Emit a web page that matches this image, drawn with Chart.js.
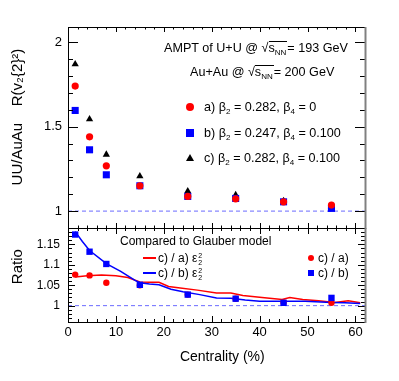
<!DOCTYPE html>
<html>
<head>
<meta charset="utf-8">
<script src="https://cdn.jsdelivr.net/npm/chart.js@4.4.1/dist/chart.umd.min.js"></script>
<style>
  body { margin: 0; background: #fff; }
  #fig { position: relative; width: 399px; height: 381px; overflow: hidden;
         font-family: "Liberation Sans", Arial, sans-serif; color: #000; }
  canvas { position: absolute; left: 0; }
  .t { position: absolute; white-space: nowrap; font-size: 12.6px; line-height: 16px; height: 16px; }
  .t.s { font-size: 12px; }
  .t sub { font-size: 8px; line-height: 0; vertical-align: -3px; }
  .rad { display: inline-block; border-top: 1px solid #000; line-height: 12px; padding-right: 1px; }
  .eps { display: inline-flex; flex-direction: column; font-size: 7px; line-height: 7px;
         vertical-align: middle; margin-left: 1px; }
  .mk { position: absolute; }
</style>
</head>
<body>
<div id="fig">
  <canvas id="upper" width="399" height="229" style="top:0"></canvas>
  <canvas id="lower" width="399" height="154" style="top:227px"></canvas>

  <div class="t" style="left:164px;top:40px">AMPT of U+U @ √<span class="rad">s<sub>NN</sub></span>= 193 GeV</div>
  <div class="t" style="left:190px;top:64px">Au+Au @ √<span class="rad">s<sub>NN</sub></span>= 200 GeV</div>

  <div class="mk" style="left:186px;top:103px;width:8px;height:8px;border-radius:50%;background:#f00"></div>
  <div class="t" style="left:204px;top:99px">a) β<sub>2</sub> = 0.282, β<sub>4</sub> = 0</div>
  <div class="mk" style="left:186px;top:129px;width:8px;height:8px;background:#00f"></div>
  <div class="t" style="left:204px;top:125px">b) β<sub>2</sub> = 0.247, β<sub>4</sub> = 0.100</div>
  <div class="mk" style="left:186px;top:154px;width:0;height:0;border-left:4px solid transparent;border-right:4px solid transparent;border-bottom:7px solid #000"></div>
  <div class="t" style="left:204px;top:150px">c) β<sub>2</sub> = 0.282, β<sub>4</sub> = 0.100</div>

  <div class="t s" style="left:120px;top:233px">Compared to Glauber model</div>
  <div class="mk" style="left:143px;top:257px;width:13px;height:2px;background:#f00"></div>
  <div class="t s" style="left:158px;top:250px">c) / a) ε<span class="eps"><span>2</span><span>2</span></span></div>
  <div class="mk" style="left:143px;top:272px;width:13px;height:2px;background:#00f"></div>
  <div class="t s" style="left:158px;top:265px">c) / b) ε<span class="eps"><span>2</span><span>2</span></span></div>

  <div class="mk" style="left:308px;top:255px;width:6px;height:6px;border-radius:50%;background:#f00"></div>
  <div class="t s" style="left:318px;top:250px">c) / a)</div>
  <div class="mk" style="left:308px;top:270px;width:6px;height:6px;background:#00f"></div>
  <div class="t s" style="left:318px;top:265px">c) / b)</div>
</div>

<script>
// centrality bins (%)
const centrality = [1.5, 4.5, 8, 15, 25, 35, 45, 55];

// UU/AuAu ratio of v2{2}^2, upper panel
const ratioA = [1.74, 1.44, 1.268, 1.15, 1.087, 1.073, 1.055, 1.036];  // a) b2=0.282, b4=0
const ratioB = [1.596, 1.363, 1.215, 1.15, 1.087, 1.075, 1.055, 1.016]; // b) b2=0.247, b4=0.100
const ratioC = [1.87, 1.544, 1.335, 1.207, 1.118, 1.095, 1.06, 1.03];   // c) b2=0.282, b4=0.100

// lower panel: AMPT ratios
const ratioCA = [1.076, 1.074, 1.056, 1.05, 1.027, 1.017, 1.008, 1.007];
const ratioCB = [1.174, 1.132, 1.102, 1.051, 1.027, 1.017, 1.007, 1.019];

// lower panel: Glauber eps2^2 ratios
const glauberCAx = [1.5, 4, 7, 10, 12.5, 15, 17, 19, 21, 23, 27, 31, 34, 36.5, 40.5, 44.7, 46.3, 49, 52.3, 55.7, 58.5, 61];
const glauberCAy = [1.070, 1.073, 1.075, 1.073, 1.069, 1.058, 1.057, 1.057, 1.047, 1.044, 1.038, 1.031, 1.031, 1.025, 1.020, 1.015, 1.020, 1.015, 1.012, 1.008, 1.012, 1.007];
const glauberCBx = [1.5, 3, 4.5, 8, 11, 14, 15, 17, 19, 21.5, 24, 27.5, 31, 34, 37, 40, 44, 49.5, 55, 57.8, 61];
const glauberCBy = [1.181, 1.157, 1.135, 1.103, 1.084, 1.062, 1.056, 1.053, 1.051, 1.040, 1.034, 1.027, 1.019, 1.018, 1.014, 1.011, 1.011, 1.011, 1.008, 1.007, 1.005];

const xRange = [0, 62];
const upperRange = [0.9, 2.09];
const lowerRange = [0.96, 1.19];
const upperTicks = [1, 1.5, 2];
const lowerTicks = [1, 1.05, 1.1, 1.15];
const centralityTicks = [0, 10, 20, 30, 40, 50, 60];
const unity = [1, 1];

const pts = (xs, ys) => xs.map((x, i) => ({ x, y: ys[i] }));

Chart.defaults.font.family = '"Liberation Sans", Arial, sans-serif';
Chart.defaults.color = '#000';

// ROOT-like frame with inward ticks on all four sides
const frameTicks = {
  id: 'frameTicks',
  afterDraw(chart, args, o) {
    const { ctx, chartArea: a, scales: { x, y } } = chart;
    ctx.save();
    ctx.strokeStyle = '#000';
    ctx.lineWidth = 1;
    ctx.beginPath();
    for (let v = 0; v <= x.max; v += 2) {
      const px = Math.round(x.getPixelForValue(v)) + 0.5;
      const len = v % 10 === 0 ? o.xMajor : o.xMinor;
      ctx.moveTo(px, a.bottom); ctx.lineTo(px, a.bottom - len);
      ctx.moveTo(px, a.top); ctx.lineTo(px, a.top + len);
    }
    const k0 = Math.ceil(y.min / o.yStep - 1e-6), k1 = Math.floor(y.max / o.yStep + 1e-6);
    for (let k = k0; k <= k1; k++) {
      const py = Math.round(y.getPixelForValue(k * o.yStep)) + 0.5;
      const len = k % o.yEvery === 0 ? o.yMajor : o.yMinor;
      ctx.moveTo(a.left, py); ctx.lineTo(a.left + len, py);
      ctx.moveTo(a.right, py); ctx.lineTo(a.right - len, py);
    }
    ctx.stroke();
    ctx.beginPath();
    ctx.moveTo(a.right, a.top + 0.5); ctx.lineTo(a.left + 0.5, a.top + 0.5);
    ctx.lineTo(a.left + 0.5, a.bottom + 0.5); ctx.lineTo(a.right, a.bottom + 0.5);
    ctx.stroke();
    ctx.strokeStyle = '#808080';
    ctx.lineWidth = 2;
    ctx.beginPath();
    ctx.moveTo(a.right + 0.5, a.top); ctx.lineTo(a.right + 0.5, a.bottom + 1);
    ctx.stroke();
    ctx.restore();
  }
};

const refLine = () => ({
  data: pts(xRange, unity), showLine: true, borderColor: '#6a6aff', borderWidth: 1,
  borderDash: [4, 3], pointRadius: 0
});

new Chart(document.getElementById('upper'), {
  type: 'scatter',
  data: {
    datasets: [
      { data: pts(centrality, ratioA), pointStyle: 'circle', pointRadius: 3.6,
        backgroundColor: '#ff0000', borderWidth: 0 },
      { data: pts(centrality, ratioB), pointStyle: 'rect', pointRadius: 5,
        backgroundColor: '#0000ff', borderWidth: 0 },
      { data: pts(centrality, ratioC), pointStyle: 'triangle', pointRadius: 4.2,
        backgroundColor: '#000000', borderWidth: 0 },
      refLine()
    ]
  },
  options: {
    responsive: false,
    animation: false,
    layout: { autoPadding: false, padding: { top: 27, right: 34, bottom: 1, left: 0 } },
    plugins: {
      legend: { display: false },
      tooltip: { enabled: false },
      frameTicks: { xMajor: 5, xMinor: 2.5, yStep: 0.1, yEvery: 5, yMajor: 10, yMinor: 5 }
    },
    scales: {
      x: { type: 'linear', min: xRange[0], max: xRange[1], display: false },
      y: {
        min: upperRange[0], max: upperRange[1],
        grid: { display: false, drawTicks: false },
        border: { display: false },
        afterBuildTicks: s => { s.ticks = upperTicks.map(v => ({ value: v })); },
        afterFit: s => { s.width = 68; s.paddingTop = 0; s.paddingBottom = 0; },
        ticks: { font: { size: 13 }, padding: 6, callback: v => String(v) },
        title: {
          display: true, text: '     UU/AuAu    R(v₂{2}²)',
          font: { size: 15 }, padding: { top: 9, bottom: 0 }
        }
      }
    }
  },
  plugins: [frameTicks]
});

new Chart(document.getElementById('lower'), {
  type: 'scatter',
  data: {
    datasets: [
      { data: pts(centrality, ratioCB), pointStyle: 'rect', pointRadius: 4.5,
        backgroundColor: '#0000ff', borderWidth: 0 },
      { data: pts(centrality, ratioCA), pointStyle: 'circle', pointRadius: 3.2,
        backgroundColor: '#ff0000', borderWidth: 0 },
      { data: pts(glauberCBx, glauberCBy), showLine: true, borderColor: '#0000ff',
        borderWidth: 1.5, pointRadius: 0 },
      { data: pts(glauberCAx, glauberCAy), showLine: true, borderColor: '#ff0000',
        borderWidth: 1.5, pointRadius: 0 },
      refLine()
    ]
  },
  options: {
    responsive: false,
    animation: false,
    layout: { autoPadding: false, padding: { top: 1, right: 34, bottom: 0, left: 0 } },
    plugins: {
      legend: { display: false },
      tooltip: { enabled: false },
      frameTicks: { xMajor: 6, xMinor: 3, yStep: 0.01, yEvery: 5, yMajor: 7, yMinor: 4 }
    },
    scales: {
      x: {
        type: 'linear', min: xRange[0], max: xRange[1],
        grid: { display: false, drawTicks: false },
        border: { display: false },
        afterBuildTicks: s => { s.ticks = centralityTicks.map(v => ({ value: v })); },
        afterFit: s => { s.height = 59; s.paddingLeft = 0; s.paddingRight = 0; },
        ticks: { font: { size: 13 }, padding: 3, maxRotation: 0, callback: v => String(v) },
        title: {
          display: true, text: '   Centrality (%)',
          font: { size: 14 }, padding: { top: 0, bottom: 15.6 }
        }
      },
      y: {
        min: lowerRange[0], max: lowerRange[1],
        grid: { display: false, drawTicks: false },
        border: { display: false },
        afterBuildTicks: s => { s.ticks = lowerTicks.map(v => ({ value: v })); },
        afterFit: s => { s.width = 68; s.paddingTop = 0; s.paddingBottom = 0; },
        ticks: { font: { size: 12 }, padding: 8, callback: v => String(v) },
        title: {
          display: true, text: '    Ratio',
          font: { size: 15 }, padding: { top: 9, bottom: 0 }
        }
      }
    }
  },
  plugins: [frameTicks]
});
</script>
</body>
</html>
